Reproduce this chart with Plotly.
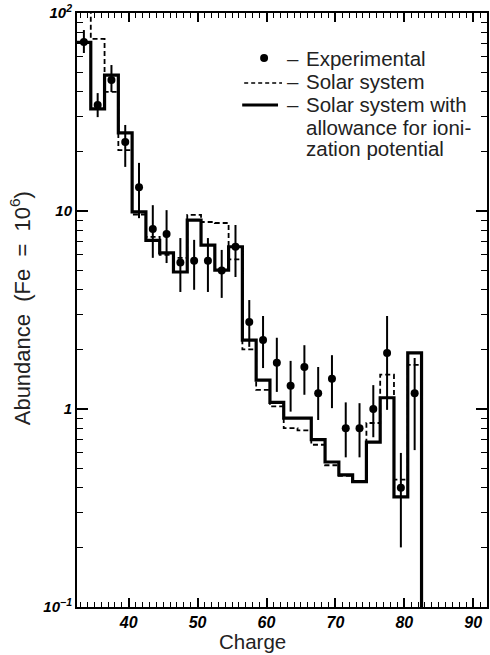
import plotly.graph_objects as go

# ---- data ----
charge = [33.5, 35.5, 37.5, 39.5, 41.5, 43.5, 45.5, 47.5, 49.5, 51.5, 53.5, 55.5,
          57.5, 59.5, 61.5, 63.5, 65.5, 67.5, 69.5, 71.5, 73.5, 75.5, 77.5, 79.5, 81.5]
exp_val = [71.4, 34.3, 45.9, 22.3, 13.2, 8.1, 7.65, 5.5, 5.6, 5.6, 5.0, 6.6,
           2.75, 2.23, 1.71, 1.31, 1.63, 1.2, 1.42, 0.80, 0.80, 1.0, 1.92, 0.40, 1.2]
exp_hi = [82, 39.4, 54.6, 27.2, 17.5, 10.7, 10.1, 7.3, 7.15, 7.3, 6.36, 8.5,
          3.55, 2.95, 2.29, 1.75, 2.10, 1.63, 1.87, 1.08, 1.07, 1.32, 2.95, 0.60, 1.81]
exp_lo = [62.8, 29.8, 39.9, 16.7, 9.2, 5.8, 5.46, 3.9, 4.0, 3.9, 3.64, 4.64,
          2.06, 1.61, 1.22, 0.97, 1.18, 0.88, 1.01, 0.57, 0.57, 0.72, 0.99, 0.20, 0.62]
solar = [130, 74, 40, 20.3, 9.6, 7.4, 6.0, 5.8, 9.55, 8.8, 8.7, 5.7,
         2.0, 1.25, 1.03, 0.80, 0.78, 0.66, 0.52, 0.46, 0.43, 0.85, 1.49, 0.44, 1.67]
solar_ion = [71, 32.8, 48.6, 24.8, 9.9, 7.1, 6.14, 4.92, 9.0, 6.73, 5.03, 6.6,
             2.23, 1.40, 1.08, 0.90, 0.90, 0.70, 0.54, 0.465, 0.43, 0.68, 1.14, 0.36, 1.92]
floor_val = 0.01

x_ticks = [40, 50, 60, 70, 80, 90]
y_ticks = [0.1, 1, 10, 100]
y_ticktext = ["10<sup>−1</sup>", "1", "10", "10<sup>2</sup>"]
legend_labels = ["Experimental", "Solar system", "Solar system with",
                 "allowance for ioni-", "zation potential"]

# ---- derived step coordinates ----
edges = [c - 1 for c in charge] + [charge[-1] + 1]

def steps(vals):
    xs = edges + [edges[-1]]
    ys = list(vals) + [vals[-1], floor_val]
    return xs, ys

fig = go.Figure()

xs, ys = steps(solar)
fig.add_trace(go.Scatter(x=xs, y=ys, mode="lines", line_shape="hv",
                         line=dict(color="black", width=1.8, dash="5px,3px"),
                         showlegend=False))
xs, ys = steps(solar_ion)
fig.add_trace(go.Scatter(x=xs, y=ys, mode="lines", line_shape="hv",
                         line=dict(color="black", width=3.2),
                         showlegend=False))
fig.add_trace(go.Scatter(
    x=charge, y=exp_val, mode="markers",
    marker=dict(color="black", size=8),
    error_y=dict(type="data", symmetric=False,
                 array=[h - v for h, v in zip(exp_hi, exp_val)],
                 arrayminus=[v - l for v, l in zip(exp_val, exp_lo)],
                 color="black", thickness=2, width=0),
    showlegend=False))

W, H = 490, 655
L, R, T, B = 77, 1, 13, 48
pw, ph = W - L - R, H - T - B

def px(x):
    return (x - L) / pw

def py(y):
    return (H - B - y) / ph

FAM = "Arial, Liberation Sans, sans-serif"
font_txt = dict(family=FAM, size=20.5, color="#222")

ann = []
rows = [58, 82, 105, 127, 148]
for lab, yy in zip(legend_labels, rows):
    ann.append(dict(x=px(305), y=py(yy), xref="paper", yref="paper", text=lab,
                    showarrow=False, xanchor="left", yanchor="middle", font=font_txt))
for yy in rows[:3]:
    ann.append(dict(x=px(294), y=py(yy), xref="paper", yref="paper", text="–",
                    showarrow=False, xanchor="center", yanchor="middle", font=font_txt))
ann.append(dict(x=px(253), y=py(642), xref="paper", yref="paper", text="Charge",
                showarrow=False, xanchor="center", yanchor="middle", font=font_txt))
nb = "\u00a0"
ann.append(dict(x=px(20), y=py(308), xref="paper", yref="paper",
                text=f"Abundance{nb}{nb}(Fe{nb}{nb}={nb}{nb}10<sup>6</sup>)", textangle=-90,
                showarrow=False, xanchor="center", yanchor="middle",
                font=dict(family=FAM, size=22, color="#222")))

shapes = [
    dict(type="circle", xref="paper", yref="paper", x0=px(261), x1=px(269),
         y0=py(62), y1=py(54), fillcolor="black", line=dict(color="black", width=0)),
    dict(type="line", xref="paper", yref="paper", x0=px(245), x1=px(283),
         y0=py(83), y1=py(83), line=dict(color="black", width=1.5, dash="4px,3px")),
    dict(type="line", xref="paper", yref="paper", x0=px(243), x1=px(279),
         y0=py(105), y1=py(105), line=dict(color="black", width=3)),
]

tick_font = dict(family=FAM, size=16, color="black", style="italic", weight="bold")

fig.update_layout(
    width=W, height=H, margin=dict(l=L, r=R, t=T, b=B),
    paper_bgcolor="white", plot_bgcolor="white",
    annotations=ann, shapes=shapes,
    xaxis=dict(range=[32.5, 92.0], tickvals=x_ticks, ticks="inside", ticklen=9,
               tickwidth=1.5, tickcolor="black", showgrid=False, zeroline=False,
               showline=True, linecolor="black", linewidth=2, mirror="allticks",
               tickfont=tick_font,
               minor=dict(dtick=1, ticks="inside", ticklen=5, tickwidth=1.2,
                          tickcolor="black", showgrid=False)),
    yaxis=dict(type="log", range=[-1, 2], tickvals=y_ticks, ticktext=y_ticktext,
               ticks="inside", ticklen=11, tickwidth=1.5, tickcolor="black",
               showgrid=False, zeroline=False, showline=True, linecolor="black",
               linewidth=2, mirror="allticks",
               tickfont=dict(family=FAM, size=15, color="black", style="italic",
                             weight="bold"),
               minor=dict(tickvals=[k * 10 ** e for e in (-1, 0, 1) for k in range(2, 10)],
                          ticks="inside", ticklen=6, tickwidth=1.2,
                          tickcolor="black", showgrid=False)),
)

fig.write_html("out.html")
